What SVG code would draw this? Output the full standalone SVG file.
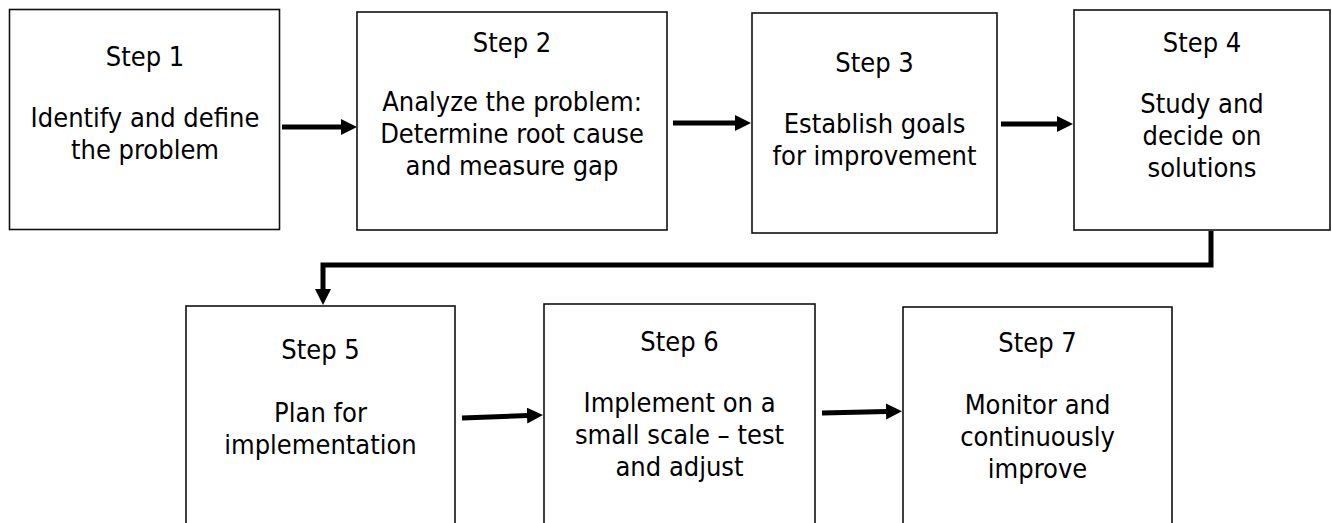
<svg xmlns="http://www.w3.org/2000/svg" width="1332" height="523" viewBox="0 0 1332 523">
<style>
.box{fill:#fff;stroke:#111;stroke-width:1.6}
.t{font-family:"DejaVu Sans Condensed","DejaVu Sans",sans-serif;font-stretch:condensed;font-size:27px;fill:#000;text-anchor:middle}
.c{fill:none;stroke:#000;stroke-width:5}
</style>
<defs>
<marker id="ah" markerUnits="userSpaceOnUse" viewBox="0 0 16 16" refX="1" refY="8" markerWidth="16" markerHeight="16" orient="auto">
<path d="M0,0 L16,8 L0,16 z" fill="#000"/>
</marker>
</defs>
<rect width="1332" height="523" fill="#fff"/>
<g id="connectors">
<line class="c" x1="282" y1="127" x2="342" y2="127" marker-end="url(#ah)"/>
<line class="c" x1="673" y1="123" x2="736" y2="123" marker-end="url(#ah)"/>
<line class="c" x1="1001" y1="124" x2="1058" y2="124" marker-end="url(#ah)"/>
<polyline class="c" points="1211,231 1211,265 323,265 323,290" marker-end="url(#ah)"/>
<line class="c" x1="462" y1="418" x2="528" y2="415.5" marker-end="url(#ah)"/>
<line class="c" x1="822" y1="413" x2="887" y2="411.5" marker-end="url(#ah)"/>
</g>
<g id="step1">
<rect class="box" x="9.5" y="9.5" width="270" height="220"/>
<text class="t" x="145" y="66">Step 1</text>
<text class="t" x="145" y="127">Identify and define</text>
<text class="t" x="145" y="159">the problem</text>
</g>
<g id="step2">
<rect class="box" x="357" y="12" width="310" height="218"/>
<text class="t" x="512" y="52">Step 2</text>
<text class="t" x="512" y="111">Analyze the problem:</text>
<text class="t" x="512" y="143">Determine root cause</text>
<text class="t" x="512" y="175">and measure gap</text>
</g>
<g id="step3">
<rect class="box" x="752" y="13" width="245" height="220"/>
<text class="t" x="874.5" y="72">Step 3</text>
<text class="t" x="874.5" y="133">Establish goals</text>
<text class="t" x="874.5" y="165">for improvement</text>
</g>
<g id="step4">
<rect class="box" x="1074" y="10" width="256" height="220"/>
<text class="t" x="1202" y="52">Step 4</text>
<text class="t" x="1202" y="113">Study and</text>
<text class="t" x="1202" y="145">decide on</text>
<text class="t" x="1202" y="177">solutions</text>
</g>
<g id="step5">
<rect class="box" x="186" y="306" width="269" height="230"/>
<text class="t" x="320.5" y="359">Step 5</text>
<text class="t" x="320.5" y="422">Plan for</text>
<text class="t" x="320.5" y="454">implementation</text>
</g>
<g id="step6">
<rect class="box" x="544" y="304" width="271" height="230"/>
<text class="t" x="679.5" y="351">Step 6</text>
<text class="t" x="679.5" y="412">Implement on a</text>
<text class="t" x="679.5" y="444">small scale – test</text>
<text class="t" x="679.5" y="476">and adjust</text>
</g>
<g id="step7">
<rect class="box" x="903" y="307" width="269" height="230"/>
<text class="t" x="1037.5" y="352">Step 7</text>
<text class="t" x="1037.5" y="414">Monitor and</text>
<text class="t" x="1037.5" y="446">continuously</text>
<text class="t" x="1037.5" y="478">improve</text>
</g>
</svg>
